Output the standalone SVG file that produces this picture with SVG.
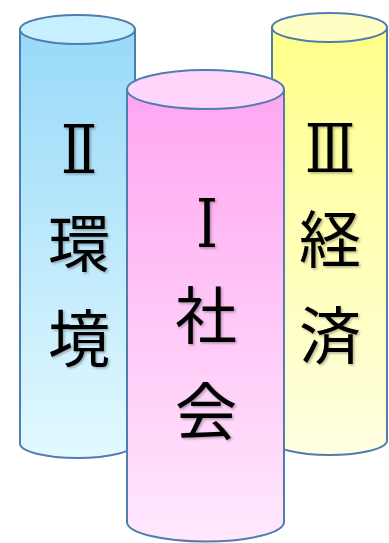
<svg xmlns="http://www.w3.org/2000/svg" width="389" height="543" viewBox="0 0 389 543">
  <defs>
    <linearGradient id="gBlue" x1="0" y1="0" x2="0" y2="1">
      <stop offset="0" stop-color="#98d9f8"/>
      <stop offset="1" stop-color="#e2f9ff"/>
    </linearGradient>
    <linearGradient id="gPink" x1="0" y1="0" x2="0" y2="1">
      <stop offset="0" stop-color="#ffa6f1"/>
      <stop offset="1" stop-color="#ffe8fd"/>
    </linearGradient>
    <linearGradient id="gYellow" x1="0" y1="0" x2="0" y2="1">
      <stop offset="0" stop-color="#ffff88"/>
      <stop offset="1" stop-color="#ffffe2"/>
    </linearGradient>
    <filter id="shadow" x="-20%" y="-20%" width="140%" height="140%">
      <feDropShadow dx="1.5" dy="1.5" stdDeviation="1" flood-color="#000" flood-opacity="0.3"/>
    </filter>
  </defs>
  <style>
    .body { stroke: #4f7eae; stroke-width: 2; }
    .top { stroke: #4f7eae; stroke-width: 2; }
    .lbl { font-family: "Noto Sans CJK JP", "Noto Sans CJK SC", sans-serif; font-size: 62px; fill: #000; text-anchor: middle; filter: url(#shadow); }
    .num { font-family: "DejaVu Serif", "Noto Sans CJK JP", serif; font-size: 68px; font-weight: normal; fill: #000; filter: url(#shadow); }
  </style>
  <rect width="389" height="543" fill="#ffffff"/>
  <g id="node-environment">
    <path class="body" fill="url(#gBlue)" d="M20,29.5 L20,443.5 A57.5,14.5 0 0 0 135,443.5 L135,29.5 Z"/>
    <ellipse class="top" fill="#c6f0ff" cx="77.5" cy="29.5" rx="57.5" ry="14.5"/>
    <text class="num" x="61" y="173" textLength="36" lengthAdjust="spacingAndGlyphs">Ⅱ</text>
    <text class="lbl" x="79" y="267">環</text>
    <text class="lbl" x="79" y="362">境</text>
  </g>
  <g id="node-economy">
    <path class="body" fill="url(#gYellow)" d="M272,27.5 L272,440.5 A57.5,14.5 0 0 0 387,440.5 L387,27.5 Z"/>
    <ellipse class="top" fill="#ffffc4" cx="329.5" cy="27.5" rx="57.5" ry="14.5"/>
    <text class="num" x="305" y="172" textLength="50" lengthAdjust="spacingAndGlyphs">Ⅲ</text>
    <text class="lbl" x="330" y="263">経</text>
    <text class="lbl" x="330" y="359">済</text>
  </g>
  <g id="node-society">
    <path class="body" fill="url(#gPink)" d="M127,89.5 L127,522 A78.5,19.5 0 0 0 284,522 L284,89.5 Z"/>
    <ellipse class="top" fill="#ffd5fc" cx="205.5" cy="89.5" rx="78.5" ry="19.5"/>
    <text class="num" x="196" y="247" textLength="22" lengthAdjust="spacingAndGlyphs">Ⅰ</text>
    <text class="lbl" x="206" y="339">社</text>
    <text class="lbl" x="206" y="435">会</text>
  </g>
  <g id="connectors"/>
</svg>
